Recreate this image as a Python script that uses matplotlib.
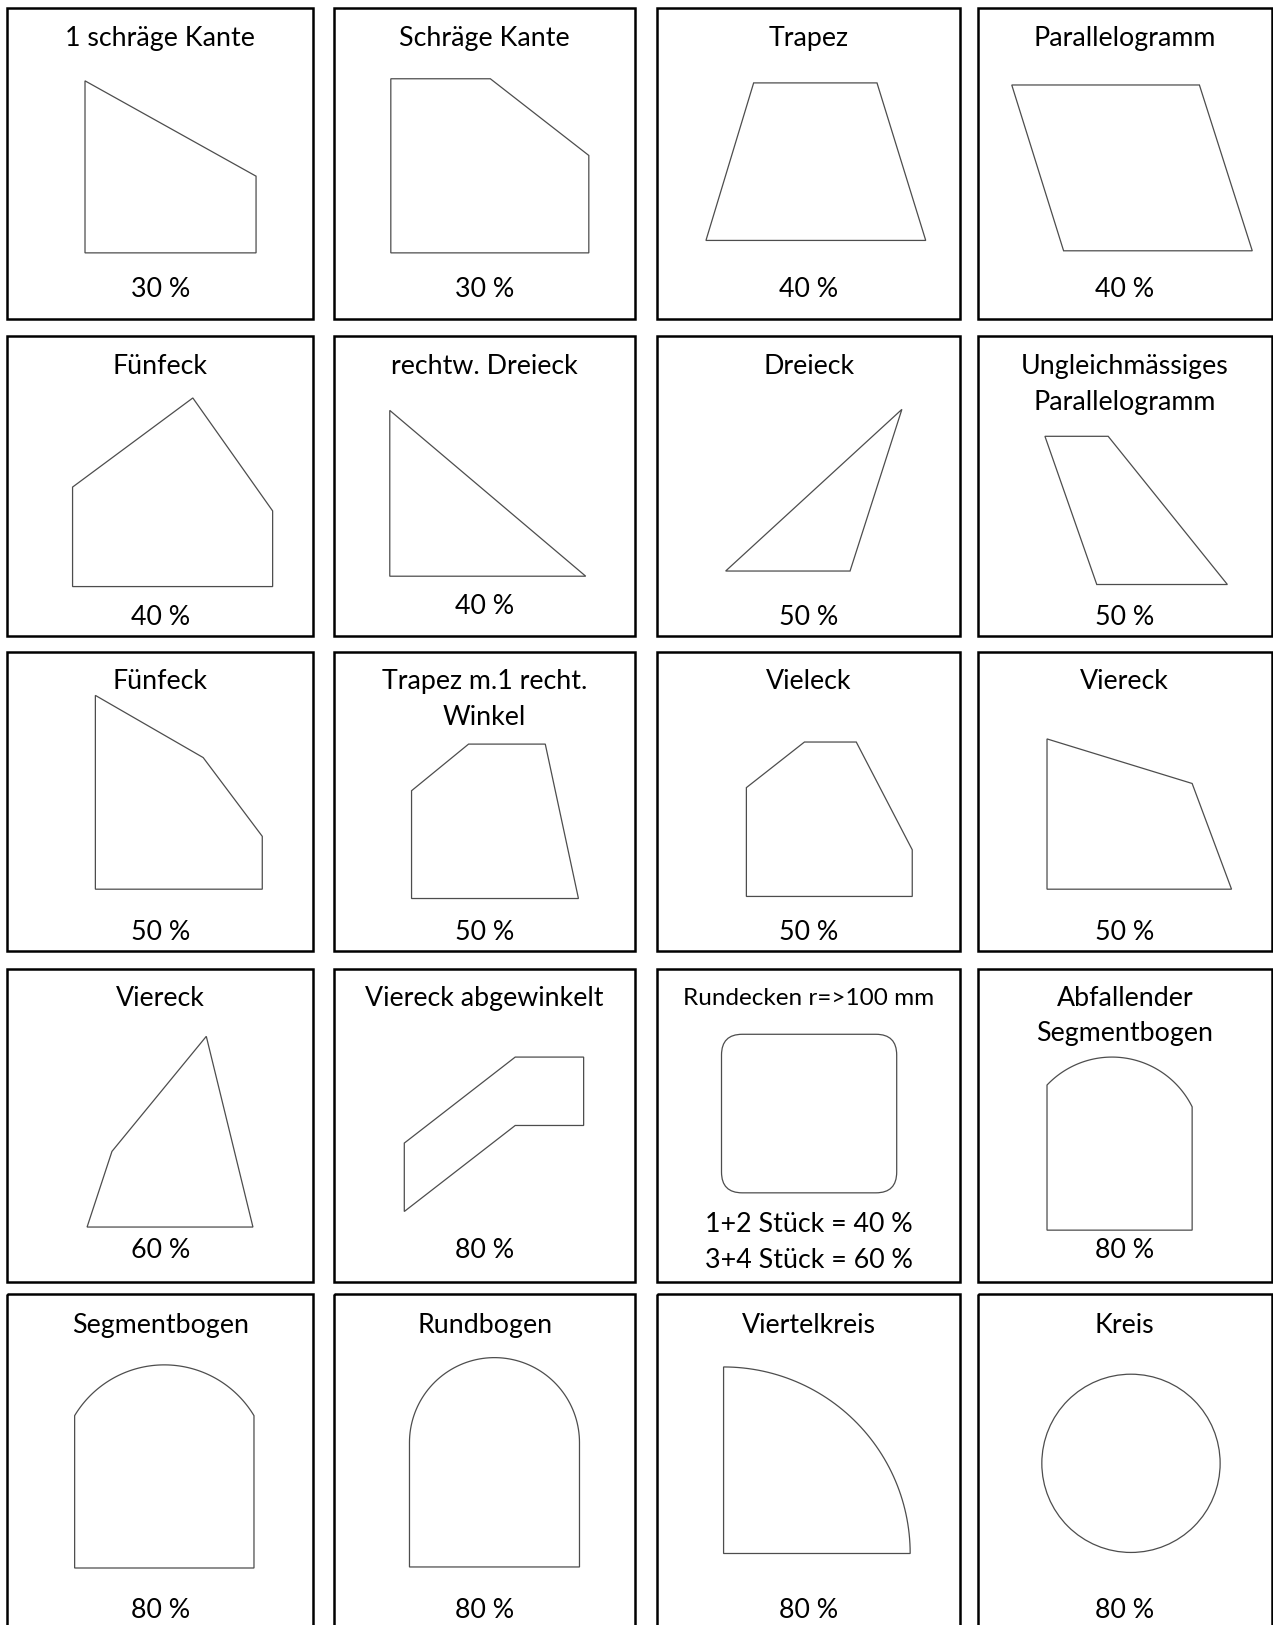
import numpy as np
import matplotlib
matplotlib.use("Agg")
import matplotlib.pyplot as plt
from matplotlib.patches import Polygon, Rectangle, Circle, FancyBboxPatch

# page is described in pixels of a 1228 x 1568 sheet
W, H = 1228, 1568

col_x = [(7, 302), (322, 613), (634, 926), (943, 1227)]
row_y = [(8, 308), (324, 614), (629, 918), (935, 1237), (1249, 1575)]

titles = [
    ["1 schräge Kante", "Schräge Kante", "Trapez", "Parallelogramm"],
    ["Fünfeck", "rechtw. Dreieck", "Dreieck", "Ungleichmässiges\nParallelogramm"],
    ["Fünfeck", "Trapez m.1 recht.\nWinkel", "Vieleck", "Viereck"],
    ["Viereck", "Viereck abgewinkelt", "Rundecken r=>100 mm", "Abfallender\nSegmentbogen"],
    ["Segmentbogen", "Rundbogen", "Viertelkreis", "Kreis"],
]
percents = [
    ["30 %", "30 %", "40 %", "40 %"],
    ["40 %", "40 %", "50 %", "50 %"],
    ["50 %", "50 %", "50 %", "50 %"],
    ["60 %", "80 %", "1+2 Stück = 40 %\n3+4 Stück = 60 %", "80 %"],
    ["80 %", "80 %", "80 %", "80 %"],
]
title_y = [37, 354, 658, 963, 1279]
pct_y = [[279, 279, 279, 279],
         [596, 585, 596, 596],
         [900, 900, 900, 900],
         [1207, 1207, 1182, 1207],
         [1554, 1554, 1554, 1554]]
line_step = 34

# polygon outlines
poly_shapes = {
    (0, 0): [(82, 78), (247, 170), (247, 244), (82, 244)],
    (0, 1): [(377, 76), (473, 76), (568, 150), (568, 244), (377, 244)],
    (0, 2): [(727, 80), (846, 80), (893, 232), (681, 232)],
    (0, 3): [(976, 82), (1157, 82), (1208, 242), (1026, 242)],
    (1, 0): [(70, 470), (186, 384), (263, 493), (263, 566), (70, 566)],
    (1, 1): [(376, 396), (565, 556), (376, 556)],
    (1, 2): [(870, 395), (820, 551), (700, 551)],
    (1, 3): [(1008, 421), (1069, 421), (1184, 564), (1058, 564)],
    (2, 0): [(92, 671), (196, 731), (253, 807), (253, 858), (92, 858)],
    (2, 1): [(397, 763), (452, 718), (526, 718), (558, 867), (397, 867)],
    (2, 2): [(720, 760), (776, 716), (826, 716), (880, 820), (880, 865), (720, 865)],
    (2, 3): [(1010, 713), (1150, 756), (1188, 858), (1010, 858)],
    (3, 0): [(108, 1111), (199, 1000), (244, 1184), (84, 1184)],
    (3, 1): [(390, 1103), (497, 1020), (563, 1020), (563, 1086), (497, 1086), (390, 1169)],
}

# arched shapes: bottom-left corner, bottom-right corner, left top, apex, right top
arch_shapes = {
    (3, 3): [(1010, 1187), (1150, 1187), (1010, 1047), (1072, 1020), (1150, 1068)],
    (4, 0): [(72, 1513), (245, 1513), (72, 1366), (158, 1317), (245, 1366)],
    (4, 1): [(395, 1512), (559, 1512), (395, 1392), (477, 1310), (559, 1392)],
}

rounded_rect = (696, 998, 169, 153, 20)   # x, y, w, h, corner radius
quarter = (698, 1499, 180)                # corner x, corner y, radius
circle = (1091, 1412, 86)                 # centre x, centre y, radius

line_col = "#4d4d4d"
line_w = 0.9

plt.rcParams["font.family"] = ["Lato", "DejaVu Sans"]

fig = plt.figure(figsize=(12.73, 16.25), dpi=100)
ax = fig.add_axes([0, 0, 1, 1])
ax.set_xlim(0, W)
ax.set_ylim(H, 0)
ax.axis("off")


def arc_points(p0, p1, p2, n=80):
    # circle through three points, sampled from p0 over p1 to p2
    (x1, y1), (x2, y2), (x3, y3) = p0, p1, p2
    d = 2 * (x1 * (y2 - y3) + x2 * (y3 - y1) + x3 * (y1 - y2))
    ux = ((x1**2 + y1**2) * (y2 - y3) + (x2**2 + y2**2) * (y3 - y1) + (x3**2 + y3**2) * (y1 - y2)) / d
    uy = ((x1**2 + y1**2) * (x3 - x2) + (x2**2 + y2**2) * (x1 - x3) + (x3**2 + y3**2) * (x2 - x1)) / d
    r = np.hypot(x1 - ux, y1 - uy)
    a0 = np.arctan2(y1 - uy, x1 - ux)
    a2 = np.arctan2(y3 - uy, x3 - ux)
    if a2 < a0:
        a2 += 2 * np.pi
    t = np.linspace(a0, a2, n)
    ys = uy + r * np.sin(t)
    if ys.min() > y2 + 2:
        t = np.linspace(a0, a2 - 2 * np.pi, n)
    return np.column_stack([ux + r * np.cos(t), uy + r * np.sin(t)])


def put_lines(x, y, text, fs):
    for k, line in enumerate(text.split("\n")):
        ax.text(x, y + k * line_step, line, ha="center", va="center", fontsize=fs)


for i, (y0, y1) in enumerate(row_y):
    for j, (x0, x1) in enumerate(col_x):
        ax.add_patch(Rectangle((x0, y0), x1 - x0, y1 - y0, fill=False,
                               edgecolor="black", lw=1.8))
        cx = (x0 + x1) / 2
        fs = 17.5 if (i, j) == (3, 2) else 19.3
        put_lines(cx, title_y[i], titles[i][j], fs)
        put_lines(cx, pct_y[i][j], percents[i][j], 19.3)

for key, pts in poly_shapes.items():
    ax.add_patch(Polygon(pts, closed=True, fill=False, edgecolor=line_col, lw=line_w))

for key, (bl, br, lt, apex, rt) in arch_shapes.items():
    arc = arc_points(lt, apex, rt)
    outline = np.vstack([[bl], arc, [br]])
    ax.add_patch(Polygon(outline, closed=True, fill=False, edgecolor=line_col, lw=line_w))

rx, ry, rw, rh, rr = rounded_rect
ax.add_patch(FancyBboxPatch((rx + rr, ry + rr), rw - 2 * rr, rh - 2 * rr,
                            boxstyle=f"round,pad={rr}", fill=False,
                            edgecolor=line_col, lw=line_w))

qx, qy, qr = quarter
t = np.linspace(-np.pi / 2, 0, 60)
qpts = np.vstack([[(qx, qy)], np.column_stack([qx + qr * np.cos(t), qy + qr * np.sin(t)])])
ax.add_patch(Polygon(qpts, closed=True, fill=False, edgecolor=line_col, lw=line_w))

ccx, ccy, cr = circle
ax.add_patch(Circle((ccx, ccy), cr, fill=False, edgecolor=line_col, lw=line_w))

fig.savefig("out.png", dpi=100)
